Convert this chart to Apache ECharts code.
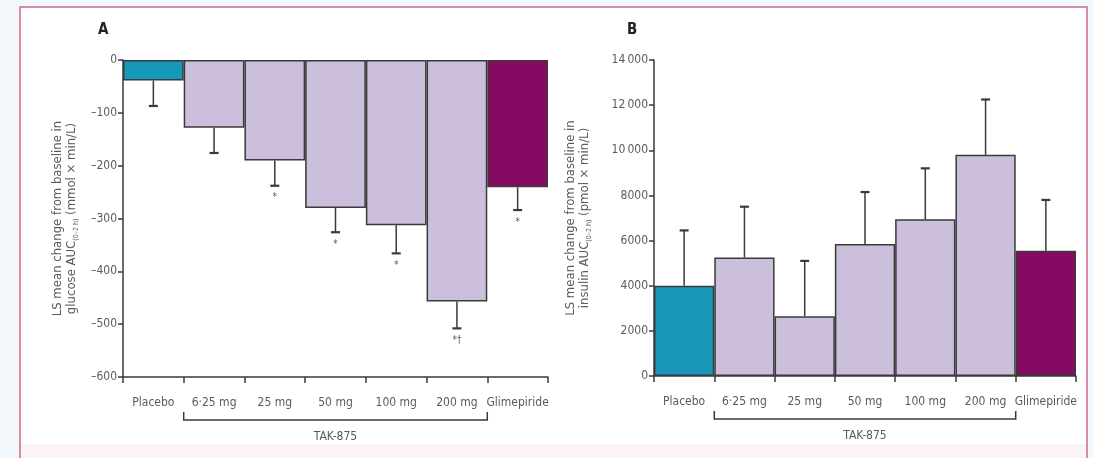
<!DOCTYPE html>
<html><head><meta charset="utf-8">
<script src="https://cdn.jsdelivr.net/npm/echarts@6/dist/echarts.min.js"></script>
<style>html,body{margin:0;padding:0;background:#f2f8fc;}#c{width:1094px;height:458px;}</style>
</head><body><div id="c"></div>
<script>
const categories = ['Placebo', '6·25 mg', '25 mg', '50 mg', '100 mg', '200 mg', 'Glimepiride'];
const glucoseMean = [-39, -128, -190, -280, -313, -457, -241];
const glucoseErr = [-87, -176, -238, -326, -366, -508, -284];
const glucoseMarks = ['', '', '*', '*', '*', '*†', '*'];
const insulinMean = [4000, 5250, 2650, 5850, 6950, 9800, 5550];
const insulinErr = [6450, 7500, 5100, 8150, 9200, 12250, 7800];
const groupLabel = 'TAK-875';
const barColors = ['#1798b8', '#cbbfdc', '#cbbfdc', '#cbbfdc', '#cbbfdc', '#cbbfdc', '#850a62'];

const FONT = '"Liberation Sans Narrow", "DejaVu Sans Condensed", "Open Sans", sans-serif';
const TXT = '#5a5a5a';
const AX = '#3a3a3a';

const chart = echarts.init(document.getElementById('c'), null, {renderer: 'canvas'});

function errRenderer(marks) {
  return function (params, api) {
    const x = api.value(0), v = api.value(1), e = api.value(2);
    const p0 = api.coord([x, v]);
    const p1 = api.coord([x, e]);
    const children = [
      {type: 'line', shape: {x1: p0[0], y1: p0[1], x2: p1[0], y2: p1[1]}, style: {stroke: AX, lineWidth: 1.5}},
      {type: 'line', shape: {x1: p1[0] - 4.5, y1: p1[1], x2: p1[0] + 4.5, y2: p1[1]}, style: {stroke: AX, lineWidth: 2.2}}
    ];
    const m = marks ? marks[params.dataIndex] : '';
    if (m) {
      children.push({type: 'text', x: p1[0], y: p1[1] + 7,
        style: {text: m, fill: TXT, font: '10px ' + FONT, textAlign: 'center', textVerticalAlign: 'top'}});
    }
    return {type: 'group', children: children};
  };
}

function bracketRenderer(params, api) {
  const cs = params.coordSys;
  const a = api.coord([1, 0]), b = api.coord([5, 0]);
  const bw = api.size([1, 0])[0];
  const x1 = a[0] - bw / 2, x2 = b[0] + bw / 2;
  const yb = cs.y + cs.height + 43;
  return {type: 'group', children: [
    {type: 'polyline', shape: {points: [[x1, yb - 8], [x1, yb], [x2, yb], [x2, yb - 8]]}, style: {stroke: AX, lineWidth: 1.5, fill: null}},
    {type: 'text', x: (x1 + x2) / 2, y: yb + 17, style: {text: groupLabel, fill: TXT, font: '12px ' + FONT, textAlign: 'center', textVerticalAlign: 'middle'}}
  ]};
}

function yName(measure, unit) {
  return 'LS mean change from baseline in\n' + measure + ' AUC{sub|(0–2 h)} ' + unit;
}

const nameStyle = {
  color: TXT, fontFamily: FONT, fontSize: 13, lineHeight: 14, align: 'center',
  rich: {sub: {fontSize: 7, fontFamily: FONT, color: TXT, padding: [8, 0, 0, 0]}}
};

const commonY = {
  type: 'value', splitLine: {show: false},
  axisLine: {show: true, lineStyle: {color: AX, width: 1.5}},
  axisTick: {show: true, length: 5, lineStyle: {color: AX, width: 1.5}},
  axisLabel: {color: TXT, fontFamily: FONT, fontSize: 12, margin: 6},
  nameLocation: 'middle', nameRotate: 90, nameTextStyle: nameStyle
};
const commonX = {
  type: 'category', data: categories, position: 'bottom',
  axisLine: {onZero: false, lineStyle: {color: AX, width: 1.5}},
  axisTick: {show: true, alignWithLabel: false, length: 6, lineStyle: {color: AX, width: 1.5}},
  axisLabel: {color: TXT, fontFamily: FONT, fontSize: 12, margin: 20, interval: 0}
};

function fmtThousands(v) {
  const s = String(v);
  if (s.length >= 5) return s.slice(0, s.length - 3) + '\u2009' + s.slice(s.length - 3);
  return s;
}

const option = {
  backgroundColor: '#f2f8fc',
  animation: false,
  graphic: [
    {type: 'rect', shape: {x: 20, y: 7, width: 1067, height: 470}, style: {fill: '#ffffff', stroke: '#d98aa6', lineWidth: 2}, z: -10},
    {type: 'rect', shape: {x: 21, y: 444, width: 1065, height: 20}, style: {fill: '#fcf3f8'}, z: -9},
    {type: 'text', x: 98, y: 30, style: {text: 'A', font: 'bold 15px ' + FONT, fill: '#222', textVerticalAlign: 'middle'}},
    {type: 'text', x: 627, y: 30, style: {text: 'B', font: 'bold 15px ' + FONT, fill: '#222', textVerticalAlign: 'middle'}}
  ],
  grid: [
    {left: 123, top: 60, width: 425, height: 317},
    {left: 654, top: 60, width: 422, height: 316}
  ],
  xAxis: [
    Object.assign({gridIndex: 0}, commonX),
    Object.assign({gridIndex: 1}, commonX)
  ],
  yAxis: [
    Object.assign({}, commonY, {gridIndex: 0, min: -600, max: 0, interval: 100,
      name: yName('glucose', '(mmol × min/L)'), nameGap: 44,
      axisLabel: Object.assign({}, commonY.axisLabel, {formatter: v => String(v).replace('-', '–')})}),
    Object.assign({}, commonY, {gridIndex: 1, min: 0, max: 14000, interval: 2000,
      name: yName('insulin', '(pmol × min/L)'), nameGap: 62,
      axisLabel: Object.assign({}, commonY.axisLabel, {formatter: fmtThousands})})
  ],
  series: [
    {type: 'bar', xAxisIndex: 0, yAxisIndex: 0, barCategoryGap: '0%', z: 2,
      data: glucoseMean.map((v, i) => ({value: v, itemStyle: {color: barColors[i]}})),
      itemStyle: {borderColor: AX, borderWidth: 1.5}},
    {type: 'bar', xAxisIndex: 1, yAxisIndex: 1, barCategoryGap: '0%', z: 2,
      data: insulinMean.map((v, i) => ({value: v, itemStyle: {color: barColors[i]}})),
      itemStyle: {borderColor: AX, borderWidth: 1.5}},
    {type: 'custom', xAxisIndex: 0, yAxisIndex: 0, z: 3, renderItem: errRenderer(glucoseMarks),
      data: glucoseMean.map((v, i) => [i, v, glucoseErr[i]]), encode: {x: 0, y: [1, 2]}},
    {type: 'custom', xAxisIndex: 1, yAxisIndex: 1, z: 3, renderItem: errRenderer(null),
      data: insulinMean.map((v, i) => [i, v, insulinErr[i]]), encode: {x: 0, y: [1, 2]}},
    {type: 'custom', xAxisIndex: 0, yAxisIndex: 0, z: 3, clip: false, renderItem: bracketRenderer, data: [[1, 0]], encode: {x: 0, y: 1}},
    {type: 'custom', xAxisIndex: 1, yAxisIndex: 1, z: 3, clip: false, renderItem: bracketRenderer, data: [[1, 0]], encode: {x: 0, y: 1}}
  ]
};
chart.setOption(option);
</script></body></html>
